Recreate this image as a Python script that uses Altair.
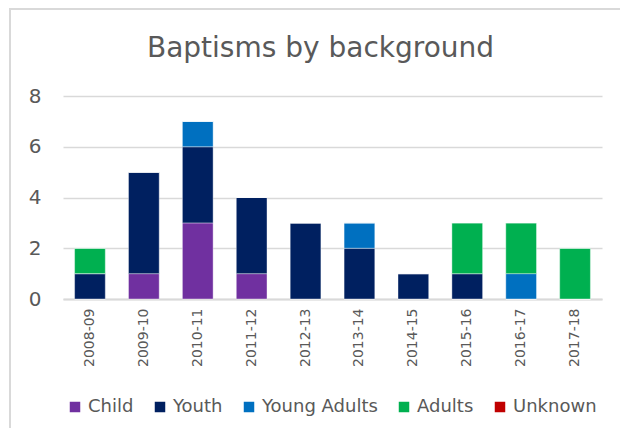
import altair as alt
import pandas as pd

years = ["2008-09", "2009-10", "2010-11", "2011-12", "2012-13",
         "2013-14", "2014-15", "2015-16", "2016-17", "2017-18"]
series = ["Child", "Youth", "Young Adults", "Adults", "Unknown"]
colors = ["#7030A0", "#002060", "#0070C0", "#00B050", "#C00000"]

child = [0, 1, 3, 1, 0, 0, 0, 0, 0, 0]
youth = [1, 4, 3, 3, 3, 2, 1, 1, 0, 0]
young_adults = [0, 0, 1, 0, 0, 1, 0, 0, 1, 0]
adults = [1, 0, 0, 0, 0, 0, 0, 2, 2, 2]
unknown = [0, 0, 0, 0, 0, 0, 0, 0, 0, 0]

rows = []
for si, (name, vals) in enumerate(zip(series, [child, youth, young_adults, adults, unknown])):
    for y, v in zip(years, vals):
        rows.append({"Year": y, "Group": name, "Count": v, "idx": si})
df = pd.DataFrame(rows)

FONT = "DejaVu Sans"
GREY = "#595959"

bars = alt.Chart(df).mark_bar(stroke="white", strokeWidth=0.4).encode(
    x=alt.X("Year:N", sort=years, title=None,
            scale=alt.Scale(paddingInner=0.43, paddingOuter=0.215),
            axis=alt.Axis(labelAngle=270, labelFontSize=14, labelColor=GREY,
                          labelFont=FONT, ticks=False, labelPadding=9,
                          domainColor="#d9d9d9", domainWidth=2)),
    y=alt.Y("Count:Q", stack="zero", title=None,
            scale=alt.Scale(domain=[0, 8], nice=False),
            axis=alt.Axis(values=[0, 2, 4, 6, 8], labelFontSize=20, labelColor=GREY,
                          labelFont=FONT, ticks=False, domain=False, labelPadding=22,
                          gridColor="#d9d9d9", gridWidth=1.5)),
    color=alt.Color("Group:N", sort=series,
                    scale=alt.Scale(domain=series, range=colors),
                    legend=alt.Legend(orient="none", direction="horizontal",
                                      legendX=3, legendY=302, title=None,
                                      symbolType="square", symbolSize=110,
                                      symbolStrokeWidth=0, labelFontSize=18,
                                      labelColor=GREY, labelFont=FONT,
                                      labelOffset=4, columnPadding=17,
                                      labelLimit=300)),
    order=alt.Order("idx:Q", sort="ascending"),
)

frame = alt.Chart(pd.DataFrame({"a": [0]})).mark_rect(
    fill=None, stroke="#d9d9d9", strokeWidth=2
).encode(
    x=alt.value(-53), x2=alt.value(600),
    y=alt.value(-87), y2=alt.value(400),
)

chart = alt.layer(frame, bars).properties(
    width=539, height=203,
    padding={"left": 55, "top": 88, "right": 18, "bottom": 129},
    autosize=alt.AutoSizeParams(type="none"),
    title=alt.TitleParams("Baptisms by background", fontSize=28, color=GREY,
                          font=FONT, fontWeight="normal", anchor="middle",
                          frame="group", offset=-55, dx=-12),
).configure_view(stroke=None)

chart.save("out.html", embed_options={"renderer": "svg", "actions": False})
